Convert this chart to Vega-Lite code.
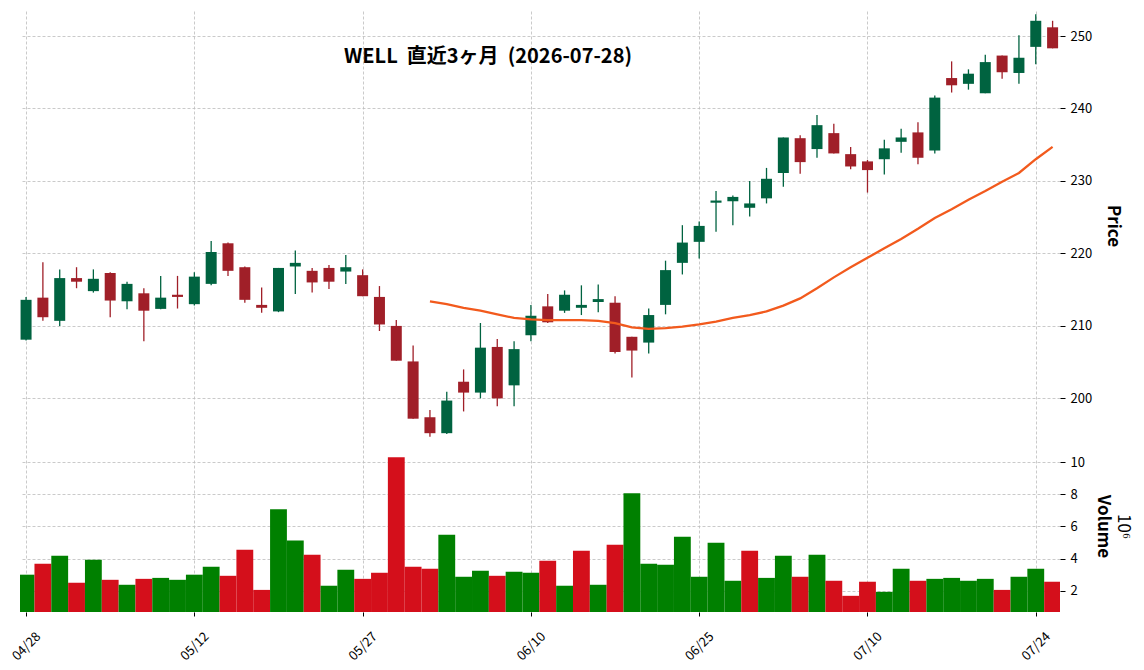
{
  "$schema": "https://vega.github.io/schema/vega-lite/v6.json",
  "background": "white",
  "padding": {"left": 9, "top": 11, "right": 5, "bottom": 0},
  "config": {
    "font": "Noto Sans CJK JP",
    "view": {"stroke": null},
    "concat": {"spacing": 0},
    "axis": {
      "labelFont": "Noto Sans CJK JP",
      "labelFontSize": 13,
      "labelColor": "#000000",
      "tickColor": "#000000",
      "tickSize": 5,
      "domain": false,
      "gridColor": "#bdbdbd",
      "gridDash": [3, 2],
      "gridWidth": 0.8,
      "titleFont": "Noto Sans CJK JP",
      "titleFontSize": 17,
      "titleFontWeight": "bold",
      "titleColor": "#000000"
    }
  },
  "data": {
    "values": [
      {"date": "04/28", "i": 0, "open": 208.1, "high": 214.0, "low": 208.0, "close": 213.6, "volume": 2990000, "vdir": "up", "ma25": null},
      {"date": "04/29", "i": 1, "open": 213.9, "high": 218.8, "low": 210.7, "close": 211.2, "volume": 3680000, "vdir": "down", "ma25": null},
      {"date": "04/30", "i": 2, "open": 210.7, "high": 217.8, "low": 210.0, "close": 216.6, "volume": 4180000, "vdir": "up", "ma25": null},
      {"date": "05/01", "i": 3, "open": 216.6, "high": 218.1, "low": 215.2, "close": 216.1, "volume": 2480000, "vdir": "down", "ma25": null},
      {"date": "05/04", "i": 4, "open": 214.8, "high": 217.8, "low": 214.6, "close": 216.5, "volume": 3930000, "vdir": "up", "ma25": null},
      {"date": "05/05", "i": 5, "open": 217.3, "high": 217.4, "low": 211.2, "close": 213.5, "volume": 2670000, "vdir": "down", "ma25": null},
      {"date": "05/06", "i": 6, "open": 213.4, "high": 216.1, "low": 212.3, "close": 215.8, "volume": 2360000, "vdir": "up", "ma25": null},
      {"date": "05/07", "i": 7, "open": 214.5, "high": 215.2, "low": 207.9, "close": 212.1, "volume": 2730000, "vdir": "down", "ma25": null},
      {"date": "05/08", "i": 8, "open": 212.35, "high": 216.9, "low": 212.3, "close": 213.9, "volume": 2790000, "vdir": "up", "ma25": null},
      {"date": "05/11", "i": 9, "open": 214.3, "high": 216.9, "low": 212.4, "close": 214.0, "volume": 2670000, "vdir": "up", "ma25": null},
      {"date": "05/12", "i": 10, "open": 213.0, "high": 217.4, "low": 212.8, "close": 216.8, "volume": 2990000, "vdir": "up", "ma25": null},
      {"date": "05/13", "i": 11, "open": 215.8, "high": 221.7, "low": 215.6, "close": 220.2, "volume": 3490000, "vdir": "up", "ma25": null},
      {"date": "05/14", "i": 12, "open": 221.4, "high": 221.5, "low": 216.9, "close": 217.6, "volume": 2920000, "vdir": "down", "ma25": null},
      {"date": "05/15", "i": 13, "open": 218.1, "high": 218.2, "low": 213.2, "close": 213.6, "volume": 4550000, "vdir": "down", "ma25": null},
      {"date": "05/18", "i": 14, "open": 212.9, "high": 215.3, "low": 211.8, "close": 212.5, "volume": 2040000, "vdir": "down", "ma25": null},
      {"date": "05/19", "i": 15, "open": 212.0, "high": 218.0, "low": 211.9, "close": 218.0, "volume": 7070000, "vdir": "up", "ma25": null},
      {"date": "05/20", "i": 16, "open": 218.2, "high": 220.4, "low": 214.4, "close": 218.7, "volume": 5120000, "vdir": "up", "ma25": null},
      {"date": "05/21", "i": 17, "open": 217.6, "high": 218.0, "low": 214.6, "close": 216.0, "volume": 4240000, "vdir": "down", "ma25": null},
      {"date": "05/22", "i": 18, "open": 218.0, "high": 218.4, "low": 215.1, "close": 216.1, "volume": 2300000, "vdir": "up", "ma25": null},
      {"date": "05/26", "i": 19, "open": 217.5, "high": 219.8, "low": 215.8, "close": 218.1, "volume": 3300000, "vdir": "up", "ma25": null},
      {"date": "05/27", "i": 20, "open": 217.0, "high": 217.8, "low": 214.1, "close": 214.1, "volume": 2730000, "vdir": "down", "ma25": null},
      {"date": "05/28", "i": 21, "open": 214.0, "high": 215.5, "low": 209.3, "close": 210.2, "volume": 3110000, "vdir": "down", "ma25": null},
      {"date": "05/29", "i": 22, "open": 210.0, "high": 210.8, "low": 205.2, "close": 205.2, "volume": 10330000, "vdir": "down", "ma25": null},
      {"date": "06/01", "i": 23, "open": 205.1, "high": 207.3, "low": 197.2, "close": 197.2, "volume": 3490000, "vdir": "down", "ma25": null},
      {"date": "06/02", "i": 24, "open": 197.4, "high": 198.4, "low": 194.7, "close": 195.2, "volume": 3360000, "vdir": "down", "ma25": 213.4},
      {"date": "06/03", "i": 25, "open": 195.2, "high": 200.9, "low": 195.1, "close": 199.7, "volume": 5490000, "vdir": "up", "ma25": 213.0},
      {"date": "06/04", "i": 26, "open": 202.3, "high": 204.0, "low": 198.2, "close": 200.8, "volume": 2860000, "vdir": "up", "ma25": 212.5},
      {"date": "06/05", "i": 27, "open": 200.8, "high": 210.4, "low": 200.0, "close": 207.0, "volume": 3230000, "vdir": "up", "ma25": 212.1},
      {"date": "06/08", "i": 28, "open": 207.1, "high": 208.2, "low": 198.9, "close": 200.0, "volume": 2920000, "vdir": "down", "ma25": 211.6},
      {"date": "06/09", "i": 29, "open": 201.8, "high": 207.9, "low": 198.9, "close": 206.8, "volume": 3170000, "vdir": "up", "ma25": 211.1},
      {"date": "06/10", "i": 30, "open": 208.7, "high": 212.9, "low": 207.9, "close": 211.4, "volume": 3110000, "vdir": "up", "ma25": 210.9},
      {"date": "06/11", "i": 31, "open": 212.7, "high": 214.4, "low": 210.4, "close": 210.5, "volume": 3860000, "vdir": "down", "ma25": 210.8},
      {"date": "06/12", "i": 32, "open": 212.1, "high": 214.9, "low": 211.8, "close": 214.3, "volume": 2300000, "vdir": "up", "ma25": 210.8},
      {"date": "06/15", "i": 33, "open": 212.5, "high": 215.6, "low": 211.5, "close": 212.9, "volume": 4490000, "vdir": "down", "ma25": 210.8},
      {"date": "06/16", "i": 34, "open": 213.3, "high": 215.7, "low": 211.9, "close": 213.7, "volume": 2360000, "vdir": "up", "ma25": 210.7},
      {"date": "06/17", "i": 35, "open": 213.2, "high": 214.1, "low": 206.2, "close": 206.4, "volume": 4860000, "vdir": "down", "ma25": 210.4},
      {"date": "06/18", "i": 36, "open": 208.5, "high": 208.5, "low": 202.9, "close": 206.6, "volume": 8070000, "vdir": "up", "ma25": 209.8},
      {"date": "06/22", "i": 37, "open": 207.7, "high": 212.4, "low": 206.2, "close": 211.5, "volume": 3680000, "vdir": "up", "ma25": 209.6},
      {"date": "06/23", "i": 38, "open": 212.9, "high": 219.0, "low": 211.6, "close": 217.7, "volume": 3610000, "vdir": "up", "ma25": 209.7},
      {"date": "06/24", "i": 39, "open": 218.7, "high": 223.9, "low": 217.1, "close": 221.5, "volume": 5360000, "vdir": "up", "ma25": 209.9},
      {"date": "06/25", "i": 40, "open": 221.6, "high": 224.4, "low": 219.3, "close": 223.8, "volume": 2860000, "vdir": "up", "ma25": 210.2},
      {"date": "06/26", "i": 41, "open": 227.0, "high": 228.6, "low": 223.0, "close": 227.3, "volume": 4990000, "vdir": "up", "ma25": 210.6},
      {"date": "06/29", "i": 42, "open": 227.2, "high": 228.0, "low": 223.9, "close": 227.8, "volume": 2610000, "vdir": "up", "ma25": 211.1},
      {"date": "06/30", "i": 43, "open": 226.3, "high": 230.0, "low": 225.1, "close": 226.9, "volume": 4490000, "vdir": "down", "ma25": 211.5},
      {"date": "07/01", "i": 44, "open": 227.6, "high": 231.8, "low": 226.9, "close": 230.3, "volume": 2790000, "vdir": "up", "ma25": 212.0},
      {"date": "07/02", "i": 45, "open": 231.1, "high": 236.0, "low": 229.2, "close": 236.0, "volume": 4180000, "vdir": "up", "ma25": 212.8},
      {"date": "07/06", "i": 46, "open": 235.9, "high": 236.3, "low": 231.0, "close": 232.6, "volume": 2860000, "vdir": "down", "ma25": 213.8},
      {"date": "07/07", "i": 47, "open": 234.4, "high": 239.1, "low": 233.2, "close": 237.7, "volume": 4240000, "vdir": "up", "ma25": 215.2},
      {"date": "07/08", "i": 48, "open": 236.6, "high": 237.9, "low": 233.8, "close": 233.8, "volume": 2610000, "vdir": "down", "ma25": 216.7},
      {"date": "07/09", "i": 49, "open": 233.7, "high": 234.7, "low": 231.6, "close": 232.0, "volume": 1670000, "vdir": "down", "ma25": 218.1},
      {"date": "07/10", "i": 50, "open": 232.7, "high": 232.9, "low": 228.4, "close": 231.5, "volume": 2550000, "vdir": "down", "ma25": 219.4},
      {"date": "07/13", "i": 51, "open": 233.0, "high": 235.7, "low": 230.9, "close": 234.5, "volume": 1920000, "vdir": "up", "ma25": 220.7},
      {"date": "07/14", "i": 52, "open": 235.4, "high": 237.2, "low": 233.9, "close": 236.0, "volume": 3360000, "vdir": "up", "ma25": 222.0},
      {"date": "07/15", "i": 53, "open": 236.7, "high": 238.1, "low": 232.3, "close": 233.2, "volume": 2610000, "vdir": "down", "ma25": 223.4},
      {"date": "07/16", "i": 54, "open": 234.2, "high": 241.8, "low": 233.8, "close": 241.5, "volume": 2730000, "vdir": "up", "ma25": 224.9},
      {"date": "07/17", "i": 55, "open": 244.2, "high": 246.5, "low": 242.2, "close": 243.2, "volume": 2790000, "vdir": "up", "ma25": 226.1},
      {"date": "07/20", "i": 56, "open": 243.4, "high": 245.4, "low": 242.6, "close": 244.8, "volume": 2610000, "vdir": "up", "ma25": 227.4},
      {"date": "07/21", "i": 57, "open": 242.1, "high": 247.4, "low": 242.1, "close": 246.4, "volume": 2730000, "vdir": "up", "ma25": 228.6},
      {"date": "07/22", "i": 58, "open": 247.3, "high": 247.3, "low": 244.1, "close": 245.0, "volume": 2040000, "vdir": "down", "ma25": 229.9},
      {"date": "07/23", "i": 59, "open": 244.9, "high": 250.1, "low": 243.4, "close": 247.0, "volume": 2860000, "vdir": "up", "ma25": 231.1},
      {"date": "07/24", "i": 60, "open": 248.5, "high": 253.0, "low": 246.1, "close": 252.1, "volume": 3360000, "vdir": "up", "ma25": 233.0},
      {"date": "07/27", "i": 61, "open": 251.2, "high": 252.1, "low": 248.3, "close": 248.3, "volume": 2550000, "vdir": "down", "ma25": 234.7}
    ]
  },
  "vconcat": [
    {
      "width": 1040,
      "height": 429,
      "title": {
        "text": "WELL\u00a0\u00a0直近3ヶ月\u00a0\u00a0(2026-07-28)",
        "orient": "top",
        "anchor": "middle",
        "baseline": "middle",
        "offset": -66,
        "dx": -52,
        "font": "Noto Sans CJK JP",
        "fontSize": 20,
        "fontWeight": "bold",
        "color": "#000000"
      },
      "layer": [
        {
          "mark": {"type": "rule", "strokeWidth": 1.3},
          "encoding": {
            "x": {
              "field": "i",
              "type": "quantitative",
              "scale": {"domain": [-0.36, 61.44], "nice": false, "zero": false, "padding": 0},
              "axis": {"values": [0, 10, 20, 30, 40, 50, 60], "labels": false, "ticks": false, "grid": true, "title": null}
            },
            "y": {
              "field": "low",
              "type": "quantitative",
              "scale": {"domain": [194.26, 253.45], "nice": false, "zero": false, "padding": 0},
              "axis": {"orient": "right", "title": "Price", "values": [200, 210, 220, 230, 240, 250], "labelPadding": 5, "titlePadding": 12, "grid": true}
            },
            "y2": {"field": "high"},
            "color": {"condition": {"test": "datum.close >= datum.open", "value": "#006340"}, "value": "#a01f28"}
          }
        },
        {
          "mark": {"type": "bar", "width": 11},
          "encoding": {
            "x": {"field": "i", "type": "quantitative"},
            "y": {"field": "open", "type": "quantitative"},
            "y2": {"field": "close"},
            "color": {"condition": {"test": "datum.close >= datum.open", "value": "#006340"}, "value": "#a01f28"}
          }
        },
        {
          "mark": {"type": "line", "color": "#f25a1d", "strokeWidth": 2.3},
          "encoding": {
            "x": {"field": "i", "type": "quantitative"},
            "y": {"field": "ma25", "type": "quantitative"}
          }
        }
      ]
    },
    {
      "width": 1040,
      "height": 172,
      "layer": [
        {
          "mark": {"type": "bar", "width": 16.83, "clip": true},
          "encoding": {
            "x": {
              "field": "i",
              "type": "quantitative",
              "scale": {"domain": [-0.36, 61.44], "nice": false, "zero": false, "padding": 0},
              "axis": {
                "values": [0, 10, 20, 30, 40, 50, 60],
                "labelExpr": "['04/28','05/12','05/27','06/10','06/25','07/10','07/24'][datum.value/10]",
                "labelAngle": -45,
                "labelAlign": "center",
                "labelBaseline": "middle",
                "labelPadding": 30,
                "tickSize": 4,
                "grid": true,
                "title": null
              }
            },
            "y": {
              "field": "volume",
              "type": "quantitative",
              "scale": {"domain": [660000, 11400000], "nice": false, "zero": false, "padding": 0},
              "axis": {
                "orient": "right",
                "title": "Volume",
                "values": [2000000, 4000000, 6000000, 8000000, 10000000],
                "labelExpr": "format(datum.value/1000000,'d')",
                "labelPadding": 5,
                "titlePadding": 9,
                "grid": true
              }
            },
            "color": {
              "field": "vdir",
              "type": "nominal",
              "scale": {"domain": ["up", "down"], "range": ["#008000", "#d40f1b"]},
              "legend": null
            }
          }
        },
        {
          "mark": {"type": "rule", "opacity": 0},
          "encoding": {
            "y": {
              "datum": 5,
              "type": "quantitative",
              "axis": {"orient": "right", "title": "10⁶", "labels": false, "ticks": false, "grid": false, "titleFontWeight": "normal", "offset": 51, "titlePadding": 2}
            }
          }
        }
      ],
      "resolve": {"scale": {"y": "independent"}}
    }
  ]
}
